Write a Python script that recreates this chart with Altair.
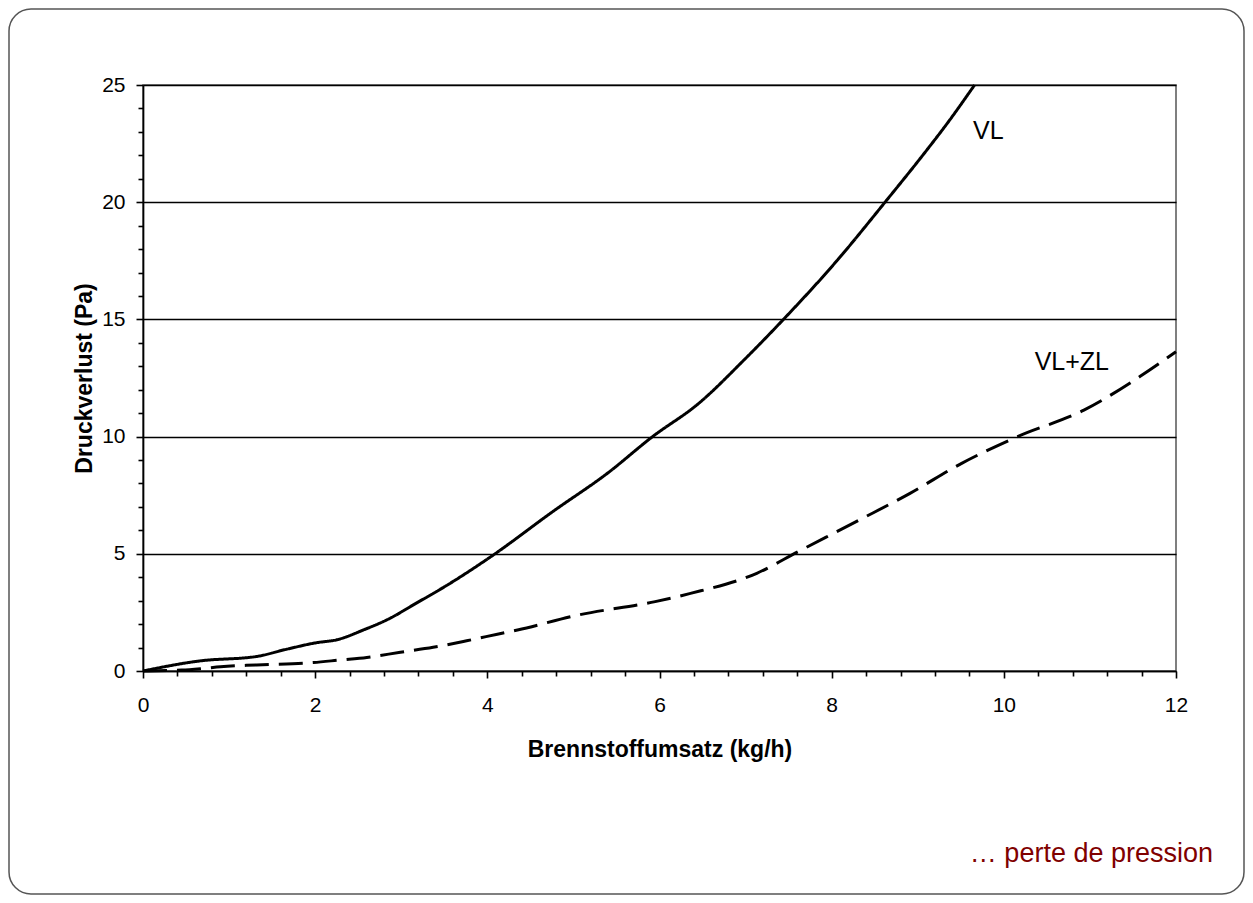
import altair as alt
import pandas as pd

# ---- data ----
vl_x = [0, 0.66, 1.32, 1.67, 2.02, 2.25, 2.56, 2.87, 3.14, 3.55, 4.05, 4.76, 5.4, 5.92,
        6.45, 6.99, 7.44, 8.06, 8.62, 9.1, 9.35, 9.66]
vl_y = [0, 0.43, 0.62, 0.93, 1.21, 1.33, 1.75, 2.25, 2.82, 3.7, 4.9, 6.8, 8.45, 10.0,
        11.4, 13.3, 15.0, 17.5, 20.0, 22.2, 23.4, 25.0]

zl_x = [0, 0.45, 0.7, 0.9, 1.32, 1.98, 2.29, 2.6, 2.99, 3.37, 3.76, 4.13, 4.35, 5.06,
        5.95, 6.36, 7.13, 7.61, 8.32, 8.91, 9.51, 10.16, 10.93, 11.58, 12.0]
zl_y = [0, 0.04, 0.11, 0.18, 0.26, 0.36, 0.47, 0.58, 0.8, 1.01, 1.29, 1.58, 1.75, 2.39,
        2.96, 3.31, 4.17, 5.09, 6.44, 7.58, 8.86, 10.0, 11.13, 12.56, 13.62]

series_names = ["VL", "VL+ZL"]
label_x = [9.82, 10.79]
label_y = [23.04, 13.18]

x_ticks = [round(0.4 * i, 1) for i in range(31)]
y_ticks = list(range(26))

x_title = "Brennstoffumsatz (kg/h)"
y_title = "Druckverlust (Pa)"
note_text = "… perte de pression"

# ---- tables ----
rows = []
for i, (a, b) in enumerate(zip(vl_x, vl_y)):
    rows.append({"x": a, "y": b, "s": series_names[0], "o": i})
for i, (a, b) in enumerate(zip(zl_x, zl_y)):
    rows.append({"x": a, "y": b, "s": series_names[1], "o": i})
df = pd.DataFrame(rows)

labels_df = pd.DataFrame({"x": label_x, "y": label_y, "t": series_names})
note_df = pd.DataFrame({"t": [note_text]})
frame_df = pd.DataFrame({"k": [0]})

W, H = 1033, 586
FONT = "Liberation Sans"

xs = alt.Scale(domain=[0, 12], nice=False, zero=True)
ys = alt.Scale(domain=[0, 25], nice=False, zero=True)

x_axis = alt.Axis(
    values=x_ticks,
    labelExpr="abs(datum.value % 2) < 1e-6 ? format(datum.value, 'd') : ''",
    tickSize={"condition": {"test": "abs(datum.value % 2) < 1e-6", "value": 7}, "value": 5},
    grid=False,
    labelOverlap=False,
    labelFlush=False,
    labelPadding=16,
    labelFontSize=21,
    labelFont=FONT,
    labelColor="black",
    tickColor="black",
    tickWidth=1.6,
    domainColor="black",
    domainWidth=1.7,
    title=x_title,
    titleFont=FONT,
    titleFontSize=23,
    titleFontWeight="bold",
    titleColor="black",
    titleBaseline="alphabetic",
    titleY=85,
)

y_axis = alt.Axis(
    values=y_ticks,
    labelExpr="datum.value % 5 === 0 ? format(datum.value, 'd') : ''",
    tickSize={"condition": {"test": "datum.value % 5 === 0", "value": 7}, "value": 5},
    grid=True,
    gridColor="black",
    gridWidth=1.6,
    gridOpacity={"condition": {"test": "datum.value % 5 === 0", "value": 1}, "value": 0},
    labelOverlap=False,
    labelFlush=False,
    labelPadding=11,
    labelFontSize=21,
    labelFont=FONT,
    labelColor="black",
    tickColor="black",
    tickWidth=1.6,
    domainColor="black",
    domainWidth=1.7,
    title=y_title,
    titleFont=FONT,
    titleFontSize=23,
    titleFontWeight="bold",
    titleColor="black",
    titleBaseline="alphabetic",
    titleX=-52,
)

frame = alt.Chart(frame_df).mark_rect(
    fillOpacity=0, stroke="#555555", strokeWidth=1.5, cornerRadius=22
).encode(
    x=alt.value(-134), x2=alt.value(1101), y=alt.value(-76), y2=alt.value(809)
)

lines = alt.Chart(df).mark_line(color="black", strokeWidth=3, interpolate="monotone").encode(
    x=alt.X("x:Q", scale=xs, axis=x_axis),
    y=alt.Y("y:Q", scale=ys, axis=y_axis),
    strokeDash=alt.StrokeDash(
        "s:N",
        scale=alt.Scale(domain=series_names, range=[[1, 0], [24, 10]]),
        legend=None,
    ),
    order="o:Q",
)

labels = alt.Chart(labels_df).mark_text(
    font=FONT, fontSize=25, color="black", align="center", baseline="middle"
).encode(
    x=alt.X("x:Q", scale=xs, axis=x_axis),
    y=alt.Y("y:Q", scale=ys, axis=y_axis),
    text="t:N",
)

note = alt.Chart(note_df).mark_text(
    font=FONT, fontSize=27, color="#800000", align="right", baseline="alphabetic"
).encode(
    x=alt.value(1070), y=alt.value(777), text="t:N"
)

chart = alt.layer(frame, lines, labels, note).properties(
    width=W,
    height=H,
    autosize=alt.AutoSizeParams(type="none"),
    padding={"left": 135, "top": 77, "right": 69, "bottom": 224},
    background="white",
).configure_view(stroke="#555555", strokeWidth=1.5)

chart.save("out.html", embed_options={"renderer": "svg", "actions": False})
